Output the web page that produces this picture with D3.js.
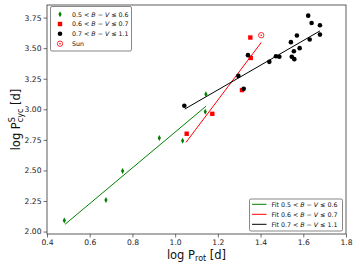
<!DOCTYPE html>
<html>
<head>
<meta charset="utf-8">
<script src="https://cdn.jsdelivr.net/npm/d3@7"></script>
<style>
  body { margin: 0; background: #fff; }
  svg { font-family: "DejaVu Sans", sans-serif; }
</style>
</head>
<body>
<svg id="chart" width="360" height="270"></svg>
<script>
// log Prot, log Pcyc per colour group
const greenX = [0.481, 0.676, 0.754, 0.926, 1.035, 1.141, 1.144]
const greenY = [2.09, 2.259, 2.496, 2.765, 2.743, 2.98, 3.124]
const redX = [1.054, 1.174, 1.313, 1.352, 1.354]
const redY = [2.80, 2.963, 3.157, 3.587, 3.42]
const blackX = [1.043, 1.296, 1.321, 1.341, 1.441, 1.472, 1.488, 1.542, 1.570, 1.556, 1.583, 1.546, 1.558, 1.623, 1.639, 1.630, 1.678, 1.678]
const blackY = [3.029, 3.273, 3.167, 3.443, 3.388, 3.434, 3.43, 3.549, 3.603, 3.475, 3.50, 3.43, 3.41, 3.766, 3.706, 3.571, 3.687, 3.611]
const sun = [1.403, 3.606]

// fit line end points [x0, y0, x1, y1]
const fitGreen = [0.485, 2.06, 1.145, 3.026]
const fitRed = [1.051, 2.73, 1.403, 3.546]
const fitBlack = [1.045, 3.002, 1.678, 3.641]

const xTicks = [0.4, 0.6, 0.8, 1.0, 1.2, 1.4, 1.6, 1.8]
const yTicks = [2.00, 2.25, 2.50, 2.75, 3.00, 3.25, 3.50, 3.75]

const legendLabels = ["0.5", "0.6", "0.7"]
const legendUpper = ["0.6", "0.7", "1.1"]
const colors = ["green", "red", "black"]

const svg = d3.select("#chart")
const mLeft = 47, mRight = 346, mTop = 5, mBottom = 234

const x = d3.scaleLinear().domain([0.4, 1.8]).range([mLeft, mRight])
const y = d3.scaleLinear().domain([1.98, 3.853]).range([mBottom, mTop])

// axes
const xAxis = svg.append("g")
  .attr("transform", `translate(0,${mBottom})`)
  .call(d3.axisBottom(x).tickValues(xTicks).tickFormat(d3.format(".1f")).tickSize(3.5).tickPadding(2))
const yAxis = svg.append("g")
  .attr("transform", `translate(${mLeft},0)`)
  .call(d3.axisLeft(y).tickValues(yTicks).tickFormat(d3.format(".2f")).tickSize(3.5).tickPadding(2))

for (const ax of [xAxis, yAxis]) {
  ax.select(".domain").remove()
  ax.selectAll(".tick line").attr("stroke", "#333").attr("stroke-width", 0.7)
  ax.selectAll(".tick text").attr("font-size", 7.6).attr("fill", "#222").attr("font-family", "DejaVu Sans")
}

svg.append("rect")
  .attr("x", mLeft).attr("y", mTop)
  .attr("width", mRight - mLeft).attr("height", mBottom - mTop)
  .attr("fill", "none").attr("stroke", "#333").attr("stroke-width", 0.8)

const plot = svg.append("g")

// fit lines
const fits = [fitGreen, fitRed, fitBlack]
fits.forEach((f, i) => {
  plot.append("line")
    .attr("x1", x(f[0])).attr("y1", y(f[1]))
    .attr("x2", x(f[2])).attr("y2", y(f[3]))
    .attr("stroke", colors[i]).attr("stroke-width", 1)
})

function diamond(cx, cy) {
  return `M${cx},${cy - 3}L${cx + 1.6},${cy}L${cx},${cy + 3}L${cx - 1.6},${cy}Z`
}

// green thin diamonds
plot.selectAll(".g-pt").data(d3.zip(greenX, greenY)).enter()
  .append("path").attr("class", "g-pt")
  .attr("d", (d) => diamond(x(d[0]), y(d[1])))
  .attr("fill", "green")

// red squares
plot.selectAll(".r-pt").data(d3.zip(redX, redY)).enter()
  .append("rect").attr("class", "r-pt")
  .attr("x", (d) => x(d[0]) - 2.2).attr("y", (d) => y(d[1]) - 2.2)
  .attr("width", 4.4).attr("height", 4.4)
  .attr("fill", "red")

// black circles
plot.selectAll(".b-pt").data(d3.zip(blackX, blackY)).enter()
  .append("circle").attr("class", "b-pt")
  .attr("cx", (d) => x(d[0])).attr("cy", (d) => y(d[1]))
  .attr("r", 2.3)
  .attr("fill", "black")

// sun
plot.append("circle").attr("cx", x(sun[0])).attr("cy", y(sun[1])).attr("r", 2.7)
  .attr("fill", "none").attr("stroke", "red").attr("stroke-width", 0.8)
plot.append("circle").attr("cx", x(sun[0])).attr("cy", y(sun[1])).attr("r", 0.8).attr("fill", "red")

// math label helper: "lo < B − V ≤ hi"
function mathLabel(t, prefix, lo, hi) {
  if (prefix) t.append("tspan").text(prefix)
  t.append("tspan").text(lo + " < ")
  t.append("tspan").attr("font-style", "italic").text("B")
  t.append("tspan").text(" − ")
  t.append("tspan").attr("font-style", "italic").text("V")
  t.append("tspan").text(" ≤ " + hi)
}

// upper-left legend
const lg1 = svg.append("g")
lg1.append("rect").attr("x", 50.5).attr("y", 6.5).attr("width", 81).attr("height", 44.5)
  .attr("rx", 1.5).attr("fill", "#fff").attr("fill-opacity", 0.8).attr("stroke", "#555").attr("stroke-width", 0.7)
const lgY = [14.3, 24, 33.7, 43.7]
lg1.append("path").attr("d", diamond(60, lgY[0])).attr("fill", "green")
lg1.append("rect").attr("x", 57.8).attr("y", lgY[1] - 2.2).attr("width", 4.4).attr("height", 4.4).attr("fill", "red")
lg1.append("circle").attr("cx", 60).attr("cy", lgY[2]).attr("r", 2.3).attr("fill", "black")
lg1.append("circle").attr("cx", 60).attr("cy", lgY[3]).attr("r", 2.7).attr("fill", "none").attr("stroke", "red").attr("stroke-width", 0.8)
lg1.append("circle").attr("cx", 60).attr("cy", lgY[3]).attr("r", 0.8).attr("fill", "red")
for (let i = 0; i < 3; i++) {
  const t = lg1.append("text").attr("x", 72).attr("y", lgY[i] + 2.2).attr("font-size", 6.3).attr("fill", "#111")
  mathLabel(t, "", legendLabels[i], legendUpper[i])
}
lg1.append("text").attr("x", 72).attr("y", lgY[3] + 2.2).attr("font-size", 6.3).attr("fill", "#111").text("Sun")

// lower-right legend
const lg2 = svg.append("g")
lg2.append("rect").attr("x", 249.5).attr("y", 199).attr("width", 93).attr("height", 32)
  .attr("rx", 1.5).attr("fill", "#fff").attr("fill-opacity", 0.8).attr("stroke", "#555").attr("stroke-width", 0.7)
const lg2Y = [204.3, 214.3, 224.3]
for (let i = 0; i < 3; i++) {
  lg2.append("line").attr("x1", 252).attr("x2", 266.5).attr("y1", lg2Y[i]).attr("y2", lg2Y[i])
    .attr("stroke", colors[i]).attr("stroke-width", 1)
  const t = lg2.append("text").attr("x", 271.5).attr("y", lg2Y[i] + 2.2).attr("font-size", 6.3).attr("fill", "#111")
  mathLabel(t, "Fit ", legendLabels[i], legendUpper[i])
}

// axis titles
const xt = svg.append("text").attr("x", (mLeft + mRight) / 2).attr("y", 258.5)
  .attr("text-anchor", "middle").attr("font-size", 11.5).attr("fill", "#111")
xt.append("tspan").text("log P")
xt.append("tspan").attr("font-size", 8).attr("dy", 2.5).text("rot")
xt.append("tspan").attr("dy", -2.5).text(" [d]")

const yt = svg.append("text")
  .attr("transform", `translate(19.5,${(mTop + mBottom) / 2}) rotate(-90)`)
  .attr("text-anchor", "middle").attr("font-size", 11.5).attr("fill", "#111")
yt.append("tspan").text("log P")
yt.append("tspan").attr("font-size", 8).attr("dy", -5).text("S")
yt.append("tspan").attr("font-size", 8).attr("dx", -5).attr("dy", 8).text("cyc")
yt.append("tspan").attr("dy", -3).text(" [d]")
</script>
</body>
</html>
